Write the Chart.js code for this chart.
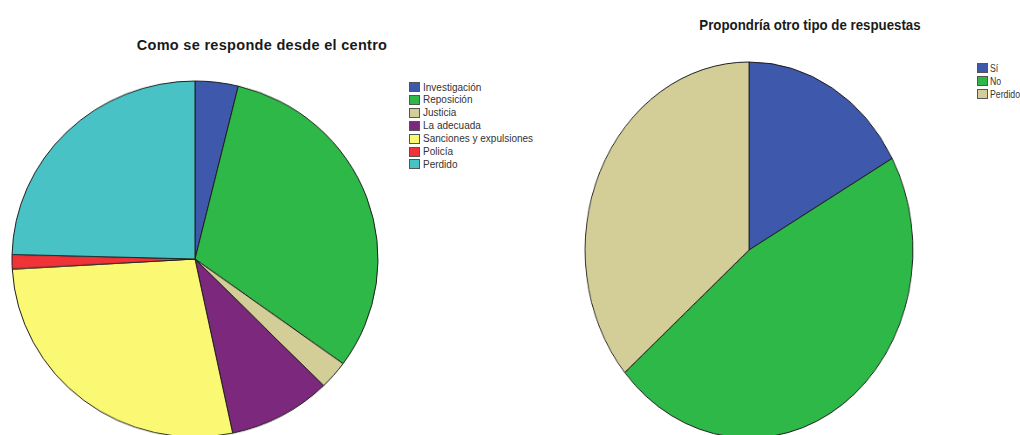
<!DOCTYPE html>
<html>
<head>
<meta charset="utf-8">
<script src="https://cdn.jsdelivr.net/npm/chart.js@4.4.0/dist/chart.umd.min.js"></script>
<style>
  html, body { margin: 0; padding: 0; background: #fff; width: 1020px; height: 435px; overflow: hidden; position: relative; }
  .pie { position: absolute; }
  .pie canvas { display: block; }
  .title { position: absolute; font-family: "Liberation Sans", Arial, sans-serif; font-weight: bold; color: #1a1a1a; white-space: nowrap; }
  .legend { position: absolute; font-family: "Liberation Sans", Arial, sans-serif; color: #333; }
  .legend .item { position: absolute; left: 0; white-space: nowrap; display: flex; align-items: center; }
  .legend .box { box-sizing: border-box; border: 1px solid #555; flex: none; }
  .legend .txt { display: inline-block; transform-origin: 0 50%; }
</style>
</head>
<body>
<div class="title" id="t1" style="left:262px; top:45px; font-size:14.5px; letter-spacing:0.3px; transform: translate(-50%, -50%);"></div>
<div class="title" id="t2" style="left:810px; top:23.5px; font-size:15px; transform: translate(-50%, -50%) scaleX(0.885);"></div>

<div class="pie" id="p1" style="left:10px; top:74px; width:370px; height:370px; transform: scaleY(0.9727); transform-origin: 50% 50%;"><canvas id="c1"></canvas></div>
<div class="pie" id="p2" style="left:559px; top:60px; width:380px; height:380px; transform: scaleX(0.872); transform-origin: 50% 50%;"><canvas id="c2"></canvas></div>

<div class="legend" id="l1" style="left:409px; top:82px; font-size:10px;"></div>
<div class="legend" id="l2" style="left:977px; top:63px; font-size:10.5px;"></div>

<script>
// ---- Data ----
const title1 = "Como se responde desde el centro";
const categories1 = ["Investigación", "Reposición", "Justicia", "La adecuada", "Sanciones y expulsiones", "Policía", "Perdido"];
const values1 = [3.8, 31.2, 2.6, 9.1, 27.4, 1.3, 24.6];
const colors1 = ["#3E58AC", "#2EB848", "#D3CE97", "#7C287D", "#FBF873", "#EF3338", "#48C2C5"];

const title2 = "Propondría otro tipo de respuestas";
const categories2 = ["Sí", "No", "Perdido"];
const values2 = [16.9, 46.8, 36.3];
const colors2 = ["#3E58AC", "#2EB848", "#D3CE97"];

document.getElementById('t1').textContent = title1;
document.getElementById('t2').textContent = title2;

function buildLegend(id, cats, cols, step, boxW, boxH, gap, sx) {
  const el = document.getElementById(id);
  cats.forEach((c, i) => {
    const it = document.createElement('div');
    it.className = 'item';
    it.style.top = (i * step) + 'px';
    it.style.height = boxH + 'px';
    const b = document.createElement('span');
    b.className = 'box';
    b.style.width = boxW + 'px';
    b.style.height = boxH + 'px';
    b.style.marginRight = gap + 'px';
    b.style.background = cols[i];
    const t = document.createElement('span');
    t.className = 'txt';
    t.style.transform = 'scaleX(' + sx + ')';
    t.textContent = c;
    it.appendChild(b);
    it.appendChild(t);
    el.appendChild(it);
  });
}
buildLegend('l1', categories1, colors1, 12.9, 11, 10, 3, 1);
buildLegend('l2', categories2, colors2, 13, 11, 10, 1.5, 0.83);

function makePie(canvasId, cats, vals, cols, radius) {
  return new Chart(document.getElementById(canvasId), {
    type: 'pie',
    data: {
      labels: cats,
      datasets: [{
        data: vals,
        backgroundColor: cols,
        borderColor: '#1e1e1e',
        borderWidth: 1,
        radius: radius,
        hoverOffset: 0
      }]
    },
    options: {
      responsive: true,
      maintainAspectRatio: false,
      animation: false,
      layout: { padding: 0 },
      plugins: {
        legend: { display: false },
        title: { display: false },
        tooltip: { enabled: false }
      }
    }
  });
}
makePie('c1', categories1, values1, colors1, 183);
makePie('c2', categories2, values2, colors2, 188);
</script>
</body>
</html>
